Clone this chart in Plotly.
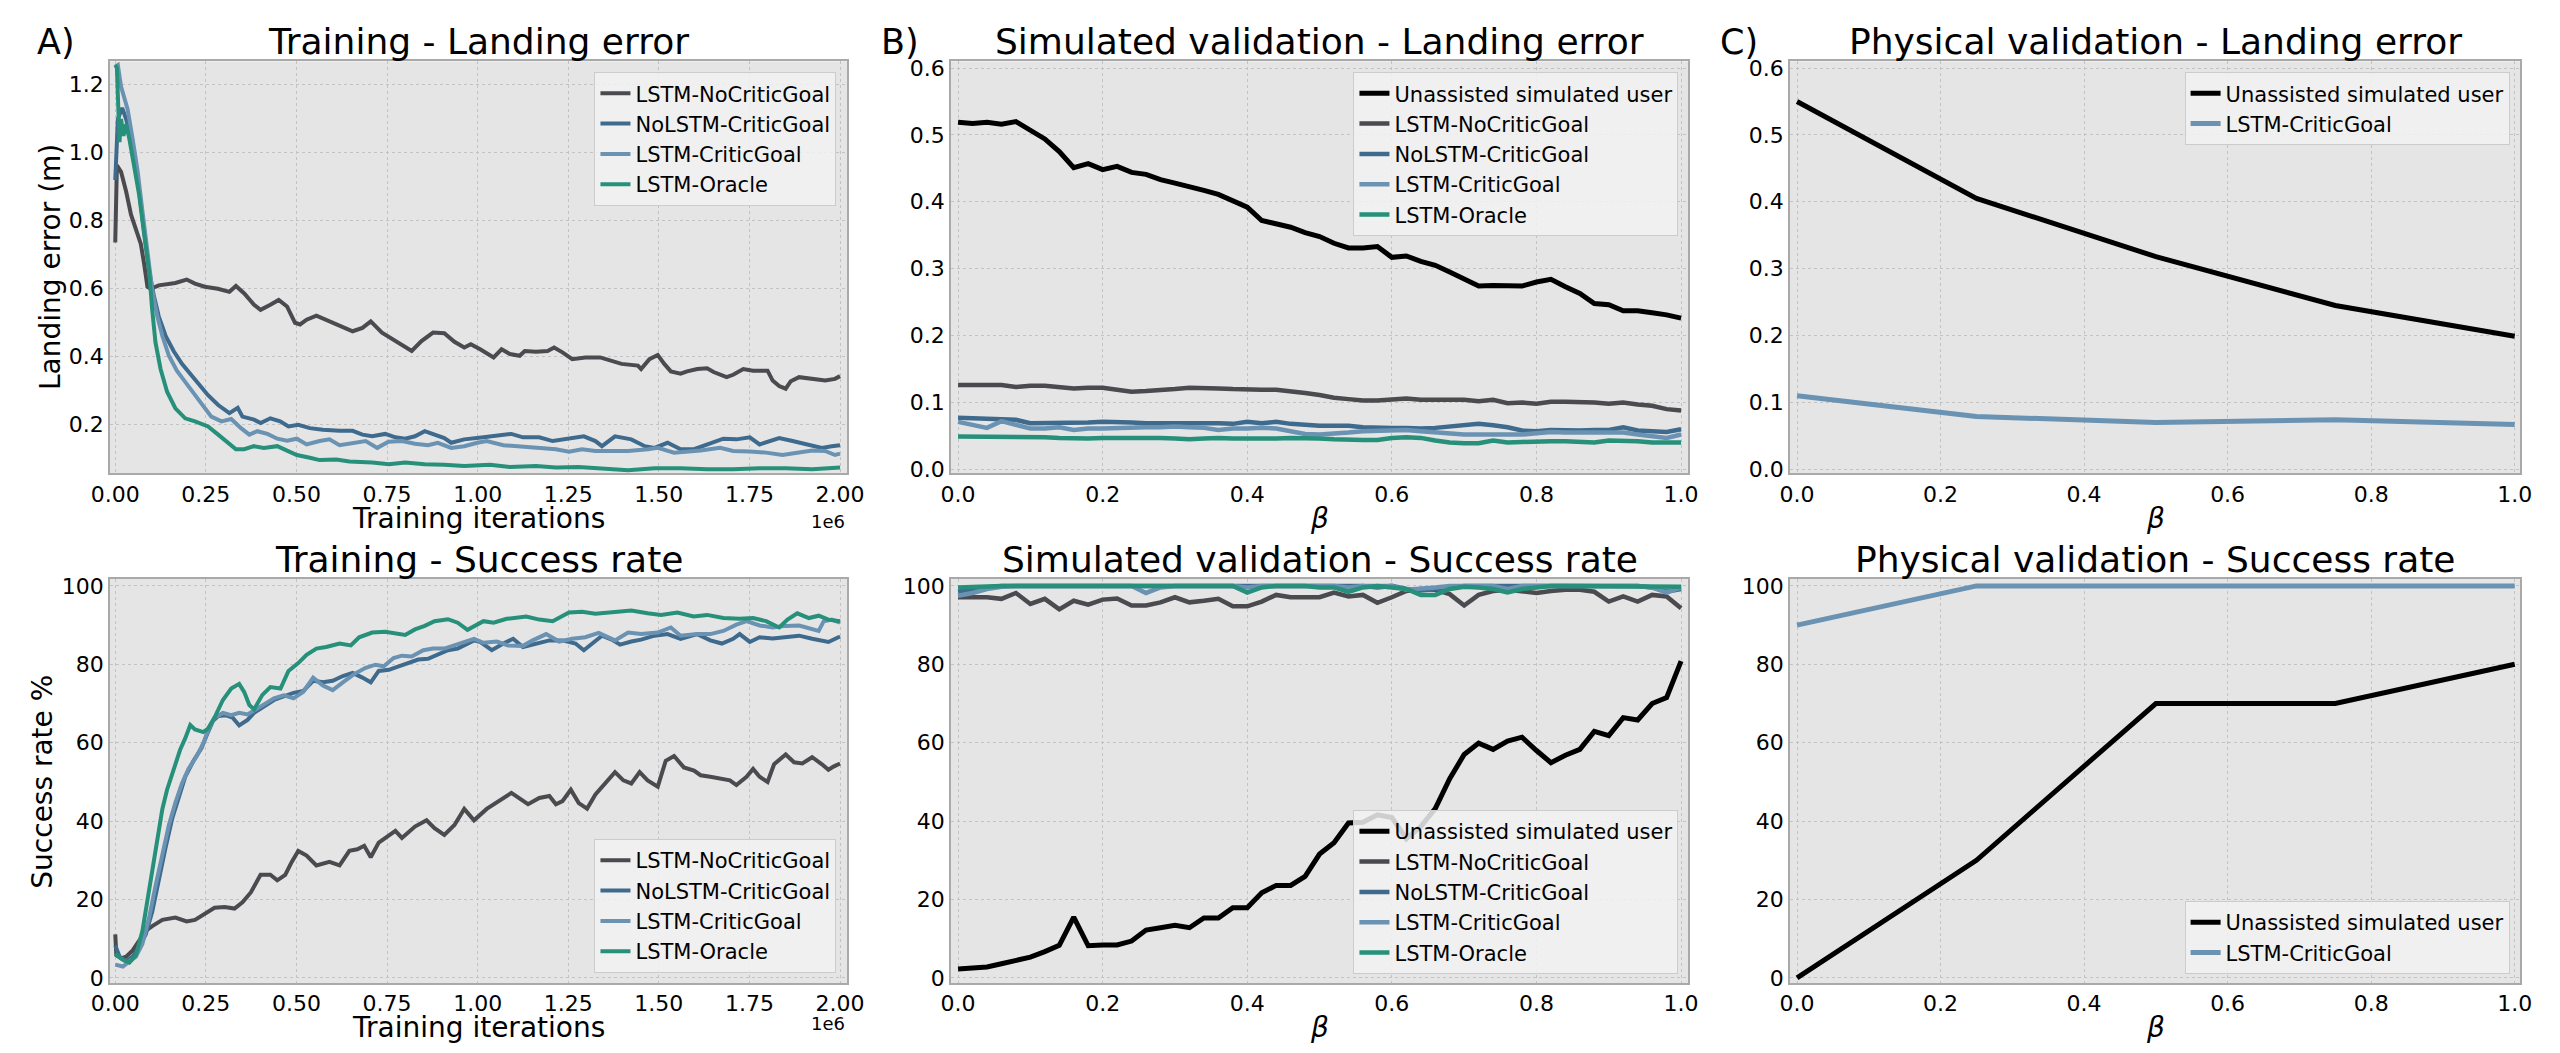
import plotly.graph_objects as go

# ---- training curves (x in millions of iterations, axis shows the 1e6 offset) ----
# landing error (m)
nocritic_err_x = [0, 0.0045, 0.016, 0.030, 0.0435, 0.057, 0.0707, 0.0797, 0.0888, 0.0978, 0.120, 0.166,
                  0.197, 0.22, 0.247, 0.283, 0.315, 0.333, 0.356, 0.383, 0.401, 0.428, 0.451, 0.474, 0.496,
                  0.51, 0.528, 0.555, 0.582, 0.60, 0.619, 0.655, 0.682, 0.705, 0.736, 0.764, 0.791, 0.818,
                  0.845, 0.877, 0.908, 0.936, 0.963, 0.981, 1.007, 1.044, 1.066, 1.089, 1.116, 1.13, 1.161,
                  1.193, 1.211, 1.234, 1.261, 1.297, 1.338, 1.37, 1.397, 1.442, 1.451, 1.474, 1.497, 1.515,
                  1.533, 1.56, 1.578, 1.606, 1.633, 1.651, 1.687, 1.705, 1.733, 1.76, 1.8, 1.814, 1.832, 1.85,
                  1.864, 1.887, 1.923, 1.959, 1.986, 2.0]
nocritic_err_y = [0.736, 0.963, 0.944, 0.886, 0.818, 0.77, 0.731, 0.673, 0.606, 0.60, 0.61, 0.617, 0.627,
                  0.615, 0.606, 0.60, 0.591, 0.608, 0.586, 0.553, 0.538, 0.553, 0.567, 0.548, 0.50, 0.495,
                  0.509, 0.521, 0.509, 0.50, 0.49, 0.475, 0.485, 0.504, 0.471, 0.453, 0.437, 0.417, 0.446,
                  0.471, 0.469, 0.444, 0.427, 0.437, 0.422, 0.398, 0.422, 0.408, 0.403, 0.417, 0.415, 0.417,
                  0.427, 0.413, 0.393, 0.398, 0.398, 0.388, 0.379, 0.374, 0.364, 0.393, 0.405, 0.379, 0.357,
                  0.35, 0.357, 0.364, 0.366, 0.355, 0.34, 0.347, 0.364, 0.359, 0.359, 0.33, 0.314, 0.306,
                  0.328, 0.34, 0.335, 0.33, 0.335, 0.343]

nolstm_err_x = [0, 0.0072, 0.019, 0.030, 0.039, 0.0525, 0.066, 0.0797, 0.0933, 0.107, 0.120, 0.139, 0.161,
                0.184, 0.211, 0.234, 0.256, 0.284, 0.315, 0.338, 0.351, 0.383, 0.401, 0.428, 0.455, 0.478,
                0.505, 0.537, 0.573, 0.619, 0.655, 0.682, 0.709, 0.745, 0.773, 0.80, 0.827, 0.854, 0.881,
                0.908, 0.927, 0.963, 1.016, 1.044, 1.093, 1.125, 1.17, 1.207, 1.252, 1.293, 1.325, 1.343,
                1.379, 1.424, 1.461, 1.488, 1.524, 1.56, 1.597, 1.633, 1.678, 1.714, 1.751, 1.778, 1.832,
                1.869, 1.914, 1.95, 1.977, 2.0]
nolstm_err_y = [0.92, 1.099, 1.132, 1.099, 1.06, 0.973, 0.886, 0.77, 0.654, 0.577, 0.519, 0.461, 0.417,
                0.379, 0.345, 0.316, 0.287, 0.258, 0.234, 0.25, 0.224, 0.215, 0.205, 0.219, 0.21, 0.195,
                0.20, 0.19, 0.185, 0.182, 0.182, 0.171, 0.166, 0.173, 0.163, 0.159, 0.166, 0.181, 0.171,
                0.161, 0.147, 0.157, 0.163, 0.166, 0.173, 0.163, 0.163, 0.152, 0.159, 0.166, 0.152, 0.137,
                0.166, 0.157, 0.137, 0.132, 0.147, 0.128, 0.128, 0.142, 0.159, 0.157, 0.163, 0.142, 0.161,
                0.152, 0.142, 0.132, 0.137, 0.14]

lstm_err_x = [0, 0.0072, 0.016, 0.025, 0.034, 0.048, 0.062, 0.075, 0.089, 0.102, 0.116, 0.13, 0.148, 0.17,
              0.193, 0.22, 0.247, 0.265, 0.293, 0.32, 0.347, 0.37, 0.392, 0.42, 0.447, 0.474, 0.501, 0.528,
              0.564, 0.591, 0.619, 0.655, 0.691, 0.723, 0.754, 0.791, 0.827, 0.863, 0.89, 0.927, 0.963,
              0.999, 1.025, 1.071, 1.116, 1.161, 1.216, 1.252, 1.288, 1.325, 1.37, 1.415, 1.47, 1.497,
              1.542, 1.578, 1.615, 1.669, 1.705, 1.751, 1.796, 1.841, 1.887, 1.923, 1.959, 1.986, 2.0]
lstm_err_y = [1.253, 1.258, 1.195, 1.166, 1.128, 1.04, 0.944, 0.828, 0.702, 0.596, 0.519, 0.461, 0.403,
              0.359, 0.326, 0.287, 0.248, 0.224, 0.21, 0.217, 0.19, 0.171, 0.181, 0.173, 0.159, 0.153, 0.159,
              0.142, 0.152, 0.157, 0.14, 0.147, 0.152, 0.132, 0.15, 0.152, 0.144, 0.14, 0.147, 0.132, 0.137,
              0.147, 0.152, 0.14, 0.137, 0.132, 0.128, 0.121, 0.128, 0.123, 0.123, 0.123, 0.128, 0.132,
              0.118, 0.121, 0.124, 0.132, 0.123, 0.121, 0.118, 0.111, 0.118, 0.124, 0.123, 0.111, 0.115]

oracle_err_x = [0, 0.0045, 0.0118, 0.016, 0.0226, 0.030, 0.039, 0.0525, 0.066, 0.0797, 0.0933, 0.102, 0.111,
                0.125, 0.143, 0.166, 0.193, 0.22, 0.256, 0.284, 0.311, 0.333, 0.356, 0.383, 0.41, 0.447,
                0.474, 0.501, 0.537, 0.564, 0.61, 0.646, 0.709, 0.755, 0.80, 0.854, 0.908, 0.963, 1.034,
                1.089, 1.161, 1.216, 1.279, 1.343, 1.415, 1.488, 1.56, 1.633, 1.705, 1.778, 1.85, 1.923, 2.0]
oracle_err_y = [1.258, 1.25, 1.031, 1.099, 1.05, 1.084, 1.04, 0.963, 0.876, 0.76, 0.654, 0.538, 0.442,
                0.364, 0.297, 0.248, 0.219, 0.21, 0.195, 0.171, 0.147, 0.128, 0.128, 0.137, 0.132, 0.137,
                0.124, 0.111, 0.103, 0.096, 0.098, 0.092, 0.089, 0.084, 0.089, 0.084, 0.082, 0.079, 0.082,
                0.076, 0.079, 0.074, 0.076, 0.072, 0.066, 0.072, 0.072, 0.069, 0.069, 0.072, 0.072, 0.069,
                0.074]

# success rate (%)
nocritic_sr_x = [0, 0.003, 0.016, 0.030, 0.048, 0.066, 0.084, 0.102, 0.13, 0.166, 0.197, 0.22, 0.247, 0.274,
                 0.302, 0.329, 0.351, 0.374, 0.401, 0.428, 0.447, 0.469, 0.487, 0.505, 0.528, 0.555, 0.591,
                 0.619, 0.646, 0.668, 0.687, 0.705, 0.727, 0.755, 0.773, 0.791, 0.827, 0.859, 0.881, 0.908,
                 0.936, 0.963, 0.99, 1.025, 1.053, 1.093, 1.139, 1.17, 1.198, 1.216, 1.234, 1.257, 1.279,
                 1.302, 1.325, 1.352, 1.379, 1.402, 1.424, 1.447, 1.469, 1.497, 1.519, 1.542, 1.569, 1.597,
                 1.615, 1.642, 1.669, 1.696, 1.714, 1.742, 1.76, 1.778, 1.8, 1.818, 1.85, 1.873, 1.896,
                 1.923, 1.95, 1.968, 1.982, 2.0]
nocritic_sr_y = [11.1, 5.8, 5.0, 5.4, 7.0, 9.5, 12.0, 13.2, 14.8, 15.4, 14.4, 14.8, 16.5, 17.9, 18.1, 17.7,
                 19.3, 21.8, 26.3, 26.3, 24.9, 26.3, 29.6, 32.4, 31.2, 28.7, 29.6, 28.7, 32.4, 32.8, 33.7,
                 30.8, 34.5, 36.5, 37.5, 35.7, 38.6, 40.2, 38.2, 36.5, 39.0, 43.1, 40.2, 43.1, 44.7, 47.2,
                 44.3, 45.9, 46.4, 44.3, 45.1, 48.0, 44.6, 43.2, 46.8, 49.6, 52.5, 50.4, 49.6, 52.5, 50.4,
                 48.8, 55.4, 56.6, 53.7, 52.9, 51.7, 51.3, 50.9, 50.4, 49.2, 51.3, 53.3, 51.3, 50.0, 54.5,
                 57.0, 55.0, 54.7, 56.3, 54.5, 53.1, 53.9, 54.7]

nolstm_sr_x = [0, 0.012, 0.030, 0.048, 0.066, 0.084, 0.102, 0.12, 0.139, 0.157, 0.175, 0.193, 0.216, 0.238,
               0.256, 0.27, 0.284, 0.306, 0.324, 0.342, 0.365, 0.383, 0.41, 0.438, 0.465, 0.492, 0.519, 0.546,
               0.573, 0.60, 0.628, 0.655, 0.682, 0.705, 0.727, 0.755, 0.782, 0.809, 0.836, 0.863, 0.89,
               0.918, 0.945, 0.972, 0.99, 1.007, 1.039, 1.071, 1.098, 1.125, 1.161, 1.198, 1.234, 1.27,
               1.293, 1.316, 1.343, 1.37, 1.393, 1.424, 1.451, 1.488, 1.524, 1.56, 1.606, 1.642, 1.674,
               1.705, 1.723, 1.751, 1.778, 1.814, 1.85, 1.887, 1.923, 1.968, 2.0]
nolstm_sr_y = [8.3, 5.4, 4.2, 5.4, 7.9, 11.1, 16.9, 25.1, 33.3, 40.6, 46.4, 51.3, 55.4, 58.6, 62.7, 65.6,
               66.8, 67.0, 66.4, 64.4, 65.8, 67.6, 69.2, 70.9, 71.8, 72.7, 73.2, 75.8, 75.4, 75.8, 77.0,
               77.8, 76.6, 75.4, 78.3, 78.6, 79.5, 80.3, 81.2, 81.4, 82.6, 83.6, 84.0, 85.3, 86.1, 85.7,
               83.6, 85.3, 86.5, 84.4, 85.3, 86.1, 86.1, 85.3, 83.6, 85.3, 87.3, 86.3, 85.0, 85.8, 86.3,
               87.3, 87.7, 86.5, 87.7, 86.1, 85.3, 86.5, 87.7, 85.7, 86.9, 86.6, 86.9, 87.3, 86.5, 85.7, 87.1]

lstm_sr_x = [0, 0.021, 0.039, 0.057, 0.075, 0.093, 0.111, 0.13, 0.148, 0.166, 0.184, 0.202, 0.225, 0.243,
             0.256, 0.274, 0.297, 0.32, 0.342, 0.365, 0.388, 0.41, 0.438, 0.465, 0.492, 0.519, 0.546, 0.573,
             0.60, 0.628, 0.659, 0.691, 0.718, 0.741, 0.768, 0.791, 0.818, 0.85, 0.877, 0.908, 0.936, 0.963,
             0.99, 1.016, 1.053, 1.084, 1.125, 1.152, 1.189, 1.225, 1.261, 1.297, 1.334, 1.379, 1.415,
             1.451, 1.497, 1.533, 1.56, 1.606, 1.642, 1.678, 1.714, 1.742, 1.778, 1.814, 1.85, 1.887,
             1.914, 1.941, 1.955, 1.977, 2.0]
lstm_sr_y = [3.4, 2.9, 4.2, 5.4, 8.7, 15.2, 23.4, 31.6, 39.0, 44.7, 49.6, 53.3, 56.6, 59.9, 63.1, 66.4, 67.6,
             67.0, 67.6, 67.2, 68.5, 69.7, 71.3, 72.1, 71.3, 73.0, 76.6, 74.6, 73.4, 75.4, 77.5, 79.1, 79.9,
             79.5, 81.6, 82.2, 82.0, 83.6, 84.0, 84.0, 84.8, 85.5, 86.5, 85.5, 85.8, 84.8, 84.7, 86.1, 87.7,
             85.8, 86.5, 86.9, 88.0, 86.1, 88.1, 87.7, 88.1, 89.4, 87.3, 87.7, 87.7, 88.5, 90.1, 91.0, 89.9,
             89.4, 89.8, 89.9, 89.1, 88.5, 91.0, 91.4, 90.6]

oracle_sr_x = [0, 0.021, 0.039, 0.057, 0.075, 0.089, 0.102, 0.116, 0.13, 0.143, 0.161, 0.179, 0.193, 0.207,
               0.22, 0.243, 0.256, 0.274, 0.297, 0.32, 0.342, 0.356, 0.37, 0.383, 0.406, 0.428, 0.456, 0.478,
               0.505, 0.528, 0.555, 0.582, 0.619, 0.65, 0.673, 0.709, 0.745, 0.773, 0.80, 0.827, 0.854,
               0.881, 0.918, 0.945, 0.972, 1.016, 1.044, 1.08, 1.134, 1.17, 1.207, 1.252, 1.288, 1.325,
               1.361, 1.424, 1.469, 1.506, 1.551, 1.596, 1.633, 1.678, 1.723, 1.76, 1.796, 1.832, 1.855,
               1.882, 1.914, 1.941, 1.968, 2.0]
oracle_sr_y = [6.2, 4.6, 3.9, 5.8, 12.0, 20.1, 28.3, 36.5, 43.1, 48.0, 52.9, 58.2, 61.1, 64.5, 63.4, 62.7,
               63.6, 66.4, 70.9, 73.8, 75.0, 72.9, 69.6, 68.5, 72.2, 74.2, 73.8, 78.3, 80.3, 82.4, 84.0,
               84.4, 85.3, 84.8, 86.9, 88.1, 88.3, 87.9, 87.5, 88.9, 89.8, 91.0, 91.5, 90.6, 88.8, 91.0,
               90.6, 91.6, 92.2, 91.4, 91.0, 93.2, 93.4, 92.9, 93.2, 93.7, 93.0, 92.6, 93.2, 92.2, 92.6,
               91.8, 91.6, 91.8, 91.0, 89.4, 91.4, 93.0, 91.8, 92.4, 91.4, 91.0]

# ---- simulated validation, beta sweep ----
beta_sim = [0.00, 0.02, 0.04, 0.06, 0.08, 0.10, 0.12, 0.14, 0.16, 0.18, 0.20, 0.22, 0.24, 0.26, 0.28, 0.30,
            0.32, 0.34, 0.36, 0.38, 0.40, 0.42, 0.44, 0.46, 0.48, 0.50, 0.52, 0.54, 0.56, 0.58, 0.60, 0.62,
            0.64, 0.66, 0.68, 0.70, 0.72, 0.74, 0.76, 0.78, 0.80, 0.82, 0.84, 0.86, 0.88, 0.90, 0.92, 0.94,
            0.96, 0.98, 1.00]

sim_err_user = [0.519, 0.517, 0.519, 0.516, 0.52, 0.507, 0.494, 0.475, 0.451, 0.457, 0.448, 0.453, 0.444,
                0.441, 0.433, 0.428, 0.423, 0.417, 0.411, 0.402, 0.392, 0.372, 0.367, 0.362, 0.354, 0.348,
                0.338, 0.331, 0.331, 0.333, 0.317, 0.319, 0.311, 0.305, 0.295, 0.285, 0.274, 0.275, 0.274,
                0.274, 0.28, 0.284, 0.273, 0.263, 0.248, 0.246, 0.237, 0.237, 0.234, 0.231, 0.226]
sim_err_nocritic = [0.126, 0.126, 0.126, 0.126, 0.123, 0.125, 0.125, 0.123, 0.121, 0.122, 0.122, 0.119, 0.116,
                    0.117, 0.118, 0.120, 0.122, 0.122, 0.121, 0.120, 0.119, 0.119, 0.119, 0.117, 0.114,
                    0.111, 0.107, 0.105, 0.103, 0.103, 0.104, 0.106, 0.104, 0.104, 0.104, 0.104, 0.102,
                    0.104, 0.099, 0.100, 0.098, 0.101, 0.101, 0.101, 0.100, 0.098, 0.100, 0.097, 0.095,
                    0.090, 0.088]
sim_err_nolstm = [0.077, 0.076, 0.076, 0.075, 0.074, 0.069, 0.069, 0.069, 0.069, 0.070, 0.071, 0.071, 0.070,
                  0.069, 0.069, 0.070, 0.069, 0.069, 0.069, 0.068, 0.071, 0.069, 0.071, 0.068, 0.066, 0.065,
                  0.065, 0.065, 0.063, 0.062, 0.062, 0.062, 0.061, 0.062, 0.064, 0.066, 0.068, 0.066, 0.063,
                  0.058, 0.057, 0.059, 0.058, 0.058, 0.059, 0.059, 0.063, 0.058, 0.057, 0.056, 0.060]
sim_err_lstm = [0.071, 0.066, 0.062, 0.072, 0.066, 0.061, 0.061, 0.063, 0.059, 0.061, 0.061, 0.062, 0.063,
                0.063, 0.063, 0.064, 0.063, 0.062, 0.059, 0.061, 0.061, 0.062, 0.061, 0.057, 0.053, 0.052,
                0.053, 0.055, 0.057, 0.058, 0.058, 0.059, 0.057, 0.055, 0.053, 0.052, 0.052, 0.052, 0.052,
                0.052, 0.054, 0.056, 0.055, 0.055, 0.055, 0.056, 0.055, 0.052, 0.049, 0.047, 0.052]
sim_err_oracle = [0.049, 0.049, 0.049, 0.049, 0.049, 0.048, 0.048, 0.047, 0.046, 0.046, 0.047, 0.047, 0.047,
                  0.048, 0.047, 0.046, 0.045, 0.046, 0.047, 0.046, 0.046, 0.045, 0.046, 0.047, 0.047, 0.046,
                  0.045, 0.044, 0.044, 0.044, 0.047, 0.048, 0.047, 0.043, 0.040, 0.039, 0.039, 0.043, 0.040,
                  0.041, 0.042, 0.042, 0.042, 0.041, 0.040, 0.043, 0.043, 0.042, 0.040, 0.040, 0.040]

sim_sr_user = [2.3, 2.6, 2.8, 3.6, 4.4, 5.3, 6.7, 8.3, 15.5, 8.2, 8.4, 8.4, 9.4, 12.2, 12.8, 13.4, 12.8, 15.3,
               15.3, 17.9, 17.9, 21.7, 23.6, 23.6, 25.9, 31.6, 34.5, 39.5, 39.7, 41.6, 40.9, 35.5, 38.6, 43.2,
               50.8, 57.0, 59.9, 58.3, 60.4, 61.4, 58.0, 54.9, 56.8, 58.3, 62.9, 61.8, 66.4, 65.8, 70.0, 71.5,
               80.8]
sim_sr_nocritic = [97.1, 97.1, 97.1, 96.7, 98.2, 95.4, 96.7, 94.0, 96.2, 95.2, 96.5, 96.8, 95.0, 95.0, 95.8,
                   97.1, 95.8, 96.2, 96.7, 94.8, 94.8, 96.0, 97.7, 97.1, 97.1, 97.1, 98.3, 97.3, 97.7, 95.7,
                   97.1, 98.7, 99.2, 99.0, 97.9, 95.0, 97.7, 98.7, 99.0, 98.7, 98.2, 98.7, 99.0, 99.0, 98.5,
                   96.0, 97.3, 96.0, 97.7, 97.3, 94.3]
sim_sr_nolstm = [98.5, 99.2, 99.6, 100, 100, 100, 100, 100, 100, 100, 100, 100, 100, 100, 100, 100, 100, 100,
                 100, 100, 100, 100, 100, 100, 100, 100, 100, 100, 100, 99.6, 100, 99.2, 98.8, 99.2, 99.6,
                 100, 100, 100, 100, 100, 100, 100, 100, 100, 100, 100, 100, 100, 99.6, 98.5, 99.2]
sim_sr_lstm = [97.5, 98.2, 99.2, 99.8, 100, 100, 100, 100, 100, 100, 100, 100, 100, 98.2, 99.6, 100, 100, 100,
               100, 100, 99.6, 100, 100, 100, 100, 100, 100, 99.6, 100, 100, 100, 99.0, 99.2, 99.6, 100, 100,
               100, 100, 99.2, 100, 100, 100, 100, 100, 100, 100, 100, 100, 99.6, 98.3, 99.6]
sim_sr_oracle = [99.6, 99.8, 100, 100, 100, 100, 100, 100, 100, 100, 100, 100, 100, 100, 100, 100, 100, 100,
                 100, 100, 98.3, 99.6, 100, 100, 100, 99.6, 99.6, 98.5, 99.6, 100, 99.6, 99.2, 97.7, 97.7,
                 99.2, 99.8, 99.6, 99.2, 98.3, 99.2, 99.6, 100, 100, 100, 100, 100, 100, 100, 100, 99.8, 99.8]

# ---- physical validation ----
beta_phys = [0.0, 0.25, 0.5, 0.75, 1.0]
phys_err_user = [0.55, 0.405, 0.318, 0.245, 0.199]
phys_err_lstm = [0.11, 0.079, 0.070, 0.074, 0.067]
phys_sr_user = [0, 30, 70, 70, 80]
phys_sr_lstm = [90, 100, 100, 100, 100]

C_USER = '#000000'
C_NOCRITIC = '#4a4a4f'
C_NOLSTM = '#3e6a8d'
C_LSTM = '#6a92b2'
C_ORACLE = '#26907a'

FONT = 'DejaVu Sans'
W, H = 2560, 1053

fig = go.Figure()


def add_line(x, y, name, color, width, n, legend):
    sfx = '' if n == 1 else str(n)
    fig.add_trace(go.Scatter(
        x=x, y=y, mode='lines', name=name,
        line=dict(color=color, width=width),
        xaxis='x' + sfx, yaxis='y' + sfx, legend=legend,
    ))


# A) training
add_line(nocritic_err_x, nocritic_err_y, 'LSTM-NoCriticGoal', C_NOCRITIC, 4, 1, 'legend')
add_line(nolstm_err_x, nolstm_err_y, 'NoLSTM-CriticGoal', C_NOLSTM, 4, 1, 'legend')
add_line(lstm_err_x, lstm_err_y, 'LSTM-CriticGoal', C_LSTM, 4, 1, 'legend')
add_line(oracle_err_x, oracle_err_y, 'LSTM-Oracle', C_ORACLE, 4, 1, 'legend')

add_line(nocritic_sr_x, nocritic_sr_y, 'LSTM-NoCriticGoal', C_NOCRITIC, 4, 4, 'legend4')
add_line(nolstm_sr_x, nolstm_sr_y, 'NoLSTM-CriticGoal', C_NOLSTM, 4, 4, 'legend4')
add_line(lstm_sr_x, lstm_sr_y, 'LSTM-CriticGoal', C_LSTM, 4, 4, 'legend4')
add_line(oracle_sr_x, oracle_sr_y, 'LSTM-Oracle', C_ORACLE, 4, 4, 'legend4')

# B) simulated validation
for ys, leg, n in [((sim_err_user, sim_err_nocritic, sim_err_nolstm, sim_err_lstm, sim_err_oracle), 'legend2', 2),
                   ((sim_sr_user, sim_sr_nocritic, sim_sr_nolstm, sim_sr_lstm, sim_sr_oracle), 'legend5', 5)]:
    add_line(beta_sim, ys[0], 'Unassisted simulated user', C_USER, 5, n, leg)
    add_line(beta_sim, ys[1], 'LSTM-NoCriticGoal', C_NOCRITIC, 4.5, n, leg)
    add_line(beta_sim, ys[2], 'NoLSTM-CriticGoal', C_NOLSTM, 4.5, n, leg)
    add_line(beta_sim, ys[3], 'LSTM-CriticGoal', C_LSTM, 4.5, n, leg)
    add_line(beta_sim, ys[4], 'LSTM-Oracle', C_ORACLE, 4.5, n, leg)

# C) physical validation
add_line(beta_phys, phys_err_user, 'Unassisted simulated user', C_USER, 5, 3, 'legend3')
add_line(beta_phys, phys_err_lstm, 'LSTM-CriticGoal', C_LSTM, 5, 3, 'legend3')
add_line(beta_phys, phys_sr_user, 'Unassisted simulated user', C_USER, 5, 6, 'legend6')
add_line(beta_phys, phys_sr_lstm, 'LSTM-CriticGoal', C_LSTM, 5, 6, 'legend6')

# panel boxes in pixels (left, right, top, bottom)
cols = [(84, 832), (937, 1685), (1788, 2529)]
rows = [(48, 466), (573, 983)]


def px_x(p):
    return p / W


def px_y(p):
    return 1 - p / H


def axis(domain, anchor, rng, dtick, fmt):
    return dict(domain=domain, anchor=anchor, range=rng, dtick=dtick, tick0=0, tickformat=fmt,
                showgrid=True, gridcolor='#c3c3c3', griddash='dot', gridwidth=1,
                showline=True, mirror=True, linecolor='#a9a9a9', linewidth=1.5,
                ticks='', zeroline=False, tickfont=dict(size=22, color='black'))


x_ranges = [([-0.015, 2.02], 0.25, '.2f'), ([-0.01, 1.01], 0.2, '.1f'), ([-0.01, 1.008], 0.2, '.1f')]
y_ranges = [[([0.057, 1.269], 0.2, '.1f'), ([-0.006, 0.61], 0.1, '.1f'), ([-0.006, 0.61], 0.1, '.1f')],
            [([-1.3, 101.8], 20, 'd'), ([-1.3, 101.8], 20, 'd'), ([-1.3, 101.8], 20, 'd')]]

layout_axes = {}
for r, (top, bot) in enumerate(rows):
    for c, (left, right) in enumerate(cols):
        n = r * 3 + c + 1
        sfx = '' if n == 1 else str(n)
        xr, xd, xf = x_ranges[c]
        yr, yd, yf = y_ranges[r][c]
        layout_axes['xaxis' + sfx] = axis([px_x(left), px_x(right)], 'y' + sfx, xr, xd, xf)
        layout_axes['yaxis' + sfx] = axis([px_y(bot), px_y(top)], 'x' + sfx, yr, yd, yf)


def legend_box(x_px, y_px, yanchor):
    return dict(x=px_x(x_px), y=px_y(y_px), xanchor='right', yanchor=yanchor,
                bgcolor='rgba(242,242,242,0.85)', bordercolor='#cccccc', borderwidth=1,
                font=dict(family=FONT, size=21, color='black'))


titles = ['Training - Landing error', 'Simulated validation - Landing error',
          'Physical validation - Landing error', 'Training - Success rate',
          'Simulated validation - Success rate', 'Physical validation - Success rate']
panel_tags = ['A)', 'B)', 'C)']
tag_left = [8, 864, 1715]
x_titles = ['Training iterations', '<i>β</i>', '<i>β</i>']

ann = []
for r, ty in enumerate([28, 553]):
    for c, (left, right) in enumerate(cols):
        ann.append(dict(text=titles[r * 3 + c], x=px_x((left + right) / 2), y=px_y(ty),
                        xanchor='center', yanchor='middle', font=dict(size=36)))
        xt_y = [512, 1028][r]
        ann.append(dict(text=x_titles[c], x=px_x((left + right) / 2), y=px_y(xt_y),
                        xanchor='center', yanchor='middle', font=dict(size=28)))
    ann.append(dict(text='1e6', x=px_x(832), y=px_y([515, 1024][r]),
                    xanchor='right', yanchor='middle', font=dict(size=18)))
for c in range(3):
    ann.append(dict(text=panel_tags[c], x=px_x(tag_left[c]), y=px_y(28),
                    xanchor='left', yanchor='middle', font=dict(size=35)))
ann.append(dict(text='Landing error (m)', x=px_x(24), y=px_y(257), textangle=-90,
                xanchor='center', yanchor='middle', font=dict(size=28)))
ann.append(dict(text='Success rate %', x=px_x(16), y=px_y(779), textangle=-90,
                xanchor='center', yanchor='middle', font=dict(size=28)))
for a in ann:
    a.update(xref='paper', yref='paper', showarrow=False)

fig.update_layout(
    width=W, height=H,
    margin=dict(l=0, r=0, t=0, b=0),
    paper_bgcolor='white', plot_bgcolor='#e5e5e5',
    font=dict(family=FONT, color='black'),
    annotations=ann,
    legend=legend_box(821, 59, 'top'),
    legend2=legend_box(1675, 59, 'top'),
    legend3=legend_box(2518, 59, 'top'),
    legend4=legend_box(821, 973, 'bottom'),
    legend5=legend_box(1675, 974, 'bottom'),
    legend6=legend_box(2518, 974, 'bottom'),
    **layout_axes,
)

fig.write_html("out.html")
